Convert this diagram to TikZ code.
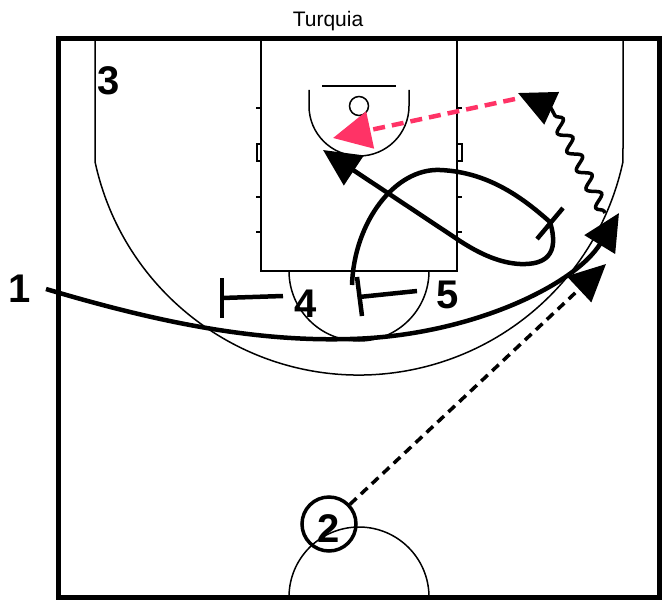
\documentclass[tikz,border=0pt]{standalone}
\usepackage{fontspec}
\setmainfont{Liberation Sans}
\usetikzlibrary{arrows.meta,decorations.pathmorphing}
\definecolor{passpink}{RGB}{255,51,102}
\begin{document}
\begin{tikzpicture}[x=1pt,y=-1pt,
  court/.style={line width=1.5pt},
  paint/.style={line width=2pt},
  num/.style={font=\fontsize{40}{40}\selectfont\bfseries, inner sep=0pt, anchor=base},
  tip/.style={-{Triangle[length=37pt,width=35pt]}},
  cut/.style={line width=4.5pt, tip},
  screenline/.style={line width=4.5pt},
  passline/.style={line width=3.5pt, dash pattern=on 9pt off 6pt, tip},
  pinkpass/.style={line width=4.5pt, passpink, dash pattern=on 12pt off 7pt, -{Triangle[length=38pt,width=37pt]}},
  dribble/.style={line width=3.5pt, decorate, decoration={snake, amplitude=6pt, segment length=21pt, pre length=2pt, post length=2pt}},
  player/.style={circle, draw, line width=3.5pt, minimum size=54pt, inner sep=0pt}
]
\useasboundingbox (0,0) rectangle (668,599);
% court
\draw[line width=5pt] (58.5,38.5) rectangle (659,597);
\draw[court] (95,38) -- (95,161.6) arc[start angle=167.9, end angle=12.1, radius=270] -- (623,38);
\draw[paint] (261,38) -- (261,271) -- (457,271) -- (457,38);
\draw[court] (289,271) arc[start angle=180, end angle=0, radius=70];
\foreach \yy in {108,197,232} {
  \draw[paint] (256,\yy) -- (261,\yy);
  \draw[paint] (457,\yy) -- (462,\yy);
}
\draw[paint] (256.5,144) rectangle (261,160.5);
\draw[paint] (457,144) rectangle (461.5,160.5);
\draw[paint] (322,86) -- (396,86);
\draw[court] (359,106) circle[radius=9.5];
\draw[court] (309,90) -- (309,106) arc[start angle=180, end angle=0, radius=50] -- (409,90);
\draw[court] (289,597) arc[start angle=180, end angle=360, radius=70];
% title
\node[font=\fontsize{21}{21}\selectfont, anchor=base, inner sep=0pt] (title) at (328,27) {Turquia};
% players
\node[num] (t1) at (19.5,302) {1};
\node[num] (t3) at (109,95) {3};
\node[num] (t4) at (306,317) {4};
\node[num] (t5) at (447.5,308) {5};
\node[player] (p2) at (329,524) {};
\node[num] (t2) at (329,542) {2};
% coordinates
\coordinate (a1) at (46,289);
\coordinate (a1end) at (619,213);
\coordinate (passend) at (606,264);
\coordinate (s5) at (352,285);
\coordinate (scr) at (550,222);
\coordinate (rollend) at (323,150);
\coordinate (d0) at (605,213);
\coordinate (d1) at (551,108);
\coordinate (d2) at (518,93);
\coordinate (k0) at (515,99);
\coordinate (k1) at (333,138);
% screens of 4 and 5
\draw[screenline] (283,296) -- (222,298);
\draw[screenline] (222,278) -- (222,318);
\draw[screenline] (417,291) -- (359,297);
\draw[screenline] (357,277) -- (362,316);
% player 1 cut
\draw[cut] (a1) .. controls (150,320) and (250,342) .. (350,339) .. controls (470,336) and (575,285) .. (a1end);
% pass from 2
\draw[passline] (p2) -- (passend);
% 5 screen then roll
\draw[screenline] (s5) .. controls (354,222) and (395,168) .. (440,170) .. controls (490,172) and (525,200) .. (scr);
\draw[screenline] (537,239) -- (563,208);
\draw[cut] (scr) .. controls (560,255) and (545,265) .. (520,264) .. controls (500,263) and (480,254) .. (460,241) -- (rollend);
% dribble
\draw[dribble] (d0) -- (d1);
\draw[line width=3.5pt, tip] (d1) -- (d2);
% pink pass
\draw[pinkpass] (k0) -- (k1);
\end{tikzpicture}
\end{document}
